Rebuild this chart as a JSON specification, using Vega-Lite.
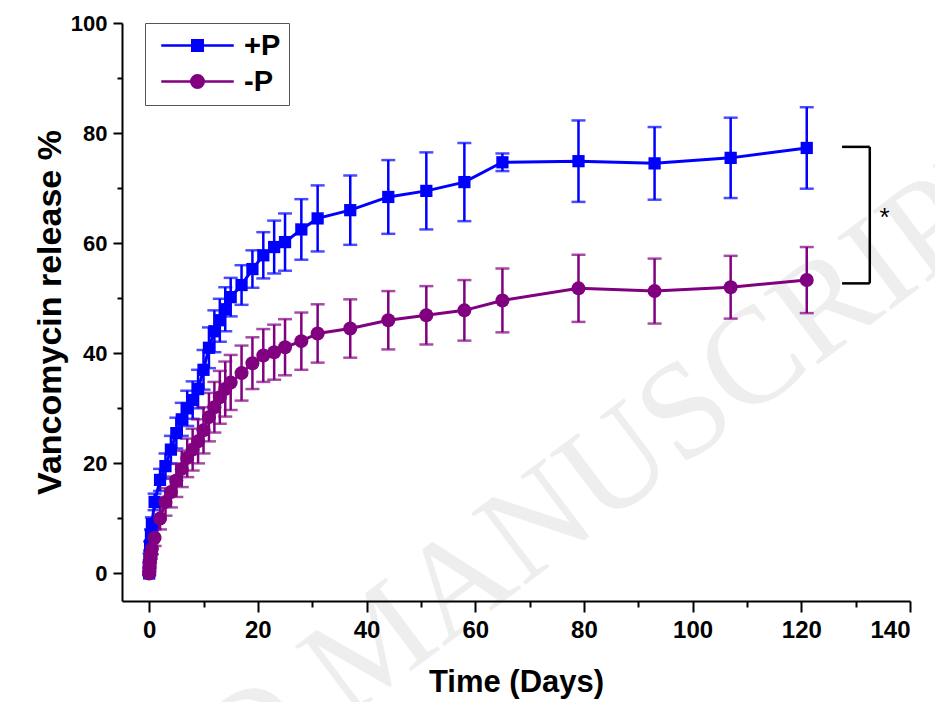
{
  "$schema": "https://vega.github.io/schema/vega-lite/v6.json",
  "width": 788,
  "height": 578,
  "autosize": {"type": "none"},
  "padding": {"left": 122, "top": 23, "right": 25, "bottom": 101},
  "background": "white",
  "config": {
    "view": {"stroke": null},
    "font": "Liberation Sans",
    "axis": {
      "domainColor": "black",
      "domainWidth": 2,
      "tickColor": "black",
      "tickWidth": 2,
      "grid": false,
      "labelFont": "Liberation Sans",
      "labelFontWeight": "bold",
      "labelColor": "black",
      "titleFont": "Liberation Sans",
      "titleFontWeight": "bold",
      "titleColor": "black"
    }
  },
  "datasets": {
    "d": [
      {"s": "+P", "t": 0, "m": 0, "e": 0.3},
      {"s": "+P", "t": 0.04, "m": 1.5, "e": 0.5},
      {"s": "+P", "t": 0.08, "m": 3, "e": 0.6},
      {"s": "+P", "t": 0.17, "m": 5, "e": 0.8},
      {"s": "+P", "t": 0.33, "m": 7, "e": 1},
      {"s": "+P", "t": 0.5, "m": 9, "e": 1.2},
      {"s": "+P", "t": 1, "m": 13, "e": 1.5},
      {"s": "+P", "t": 2, "m": 17, "e": 2},
      {"s": "+P", "t": 3, "m": 19.5, "e": 2.3},
      {"s": "+P", "t": 4, "m": 22.5, "e": 2.5},
      {"s": "+P", "t": 5, "m": 25.5, "e": 2.8},
      {"s": "+P", "t": 6, "m": 28, "e": 3},
      {"s": "+P", "t": 7, "m": 30, "e": 3.2},
      {"s": "+P", "t": 8, "m": 31.5, "e": 3.4},
      {"s": "+P", "t": 9, "m": 33.5, "e": 3.5},
      {"s": "+P", "t": 10, "m": 37, "e": 3.6},
      {"s": "+P", "t": 11, "m": 41, "e": 3.7},
      {"s": "+P", "t": 12, "m": 44, "e": 3.8},
      {"s": "+P", "t": 13, "m": 46, "e": 3.9},
      {"s": "+P", "t": 14, "m": 48, "e": 4},
      {"s": "+P", "t": 15, "m": 50.2, "e": 3.5},
      {"s": "+P", "t": 17, "m": 52.4, "e": 3.6},
      {"s": "+P", "t": 19, "m": 55.3, "e": 3.4},
      {"s": "+P", "t": 21, "m": 57.8, "e": 4.2},
      {"s": "+P", "t": 23, "m": 59.3, "e": 4.8},
      {"s": "+P", "t": 25, "m": 60.2, "e": 5.2},
      {"s": "+P", "t": 28, "m": 62.5, "e": 5.5},
      {"s": "+P", "t": 31, "m": 64.5, "e": 6},
      {"s": "+P", "t": 37, "m": 66, "e": 6.3},
      {"s": "+P", "t": 44, "m": 68.4, "e": 6.7},
      {"s": "+P", "t": 51, "m": 69.5, "e": 7},
      {"s": "+P", "t": 58, "m": 71.1, "e": 7.1},
      {"s": "+P", "t": 65, "m": 74.7, "e": 1.6},
      {"s": "+P", "t": 79, "m": 74.9, "e": 7.4},
      {"s": "+P", "t": 93, "m": 74.5, "e": 6.6},
      {"s": "+P", "t": 107, "m": 75.5, "e": 7.3},
      {"s": "+P", "t": 121, "m": 77.3, "e": 7.4},
      {"s": "-P", "t": 0, "m": 0, "e": 0.3},
      {"s": "-P", "t": 0.04, "m": 0.8, "e": 0.4},
      {"s": "-P", "t": 0.08, "m": 1.5, "e": 0.5},
      {"s": "-P", "t": 0.17, "m": 2.5, "e": 0.6},
      {"s": "-P", "t": 0.33, "m": 3.5, "e": 0.8},
      {"s": "-P", "t": 0.5, "m": 4.5, "e": 1},
      {"s": "-P", "t": 1, "m": 6.5, "e": 1.5},
      {"s": "-P", "t": 2, "m": 10, "e": 2},
      {"s": "-P", "t": 3, "m": 13, "e": 2.5},
      {"s": "-P", "t": 4, "m": 14.8, "e": 2.8},
      {"s": "-P", "t": 5, "m": 16.9, "e": 3},
      {"s": "-P", "t": 6, "m": 19, "e": 3.3},
      {"s": "-P", "t": 7, "m": 21, "e": 3.5},
      {"s": "-P", "t": 8, "m": 22.5, "e": 3.8},
      {"s": "-P", "t": 9, "m": 24, "e": 4},
      {"s": "-P", "t": 10, "m": 26, "e": 4.2},
      {"s": "-P", "t": 11, "m": 28.4, "e": 4.4},
      {"s": "-P", "t": 12, "m": 30.2, "e": 4.6},
      {"s": "-P", "t": 13, "m": 32, "e": 4.8},
      {"s": "-P", "t": 14, "m": 33.5, "e": 5},
      {"s": "-P", "t": 15, "m": 34.7, "e": 5},
      {"s": "-P", "t": 17, "m": 36.4, "e": 5},
      {"s": "-P", "t": 19, "m": 38.2, "e": 4.7},
      {"s": "-P", "t": 21, "m": 39.6, "e": 4.8},
      {"s": "-P", "t": 23, "m": 40.2, "e": 5},
      {"s": "-P", "t": 25, "m": 41.1, "e": 5.1},
      {"s": "-P", "t": 28, "m": 42.2, "e": 5.2},
      {"s": "-P", "t": 31, "m": 43.6, "e": 5.3},
      {"s": "-P", "t": 37, "m": 44.5, "e": 5.3},
      {"s": "-P", "t": 44, "m": 46, "e": 5.3},
      {"s": "-P", "t": 51, "m": 46.9, "e": 5.3},
      {"s": "-P", "t": 58, "m": 47.8, "e": 5.5},
      {"s": "-P", "t": 65, "m": 49.6, "e": 5.8},
      {"s": "-P", "t": 79, "m": 51.8, "e": 6.1},
      {"s": "-P", "t": 93, "m": 51.3, "e": 5.9},
      {"s": "-P", "t": 107, "m": 52, "e": 5.7},
      {"s": "-P", "t": 121, "m": 53.3, "e": 6}
    ],
    "bracket": [
      {"x": 127.5, "x2": 132.6, "y": 77.5, "y2": 77.5},
      {"x": 127.5, "x2": 132.6, "y": 52.7, "y2": 52.7},
      {"x": 132.6, "x2": 132.6, "y": 77.5, "y2": 52.7}
    ],
    "star": [{"x": 135.3, "y": 64.5, "label": "*"}],
    "wm": [{"x": 42, "y": -13, "label": "ACCEPTED MANUSCRIPT"}]
  },
  "encoding": {
    "x": {
      "field": "t", "type": "quantitative",
      "scale": {"domain": [-5, 140], "nice": false, "zero": false},
      "axis": {
        "zindex": 2,
        "title": "Time (Days)",
        "values": [0, 10, 20, 30, 40, 50, 60, 70, 80, 90, 100, 110, 120, 130, 140],
        "labelExpr": "datum.value % 20 === 0 ? datum.label : ''",
        "tickSize": {"condition": {"test": "datum.value % 20 === 0", "value": 11}, "value": 6},
        "labelFontSize": 24,
        "labelPadding": 6,
        "titleFontSize": 31,
        "titlePadding": 25
      }
    },
    "y": {
      "field": "m", "type": "quantitative",
      "scale": {"domain": [-5, 100], "nice": false, "zero": false},
      "axis": {
        "zindex": 2,
        "title": "Vancomycin release %",
        "values": [0, 10, 20, 30, 40, 50, 60, 70, 80, 90, 100],
        "labelExpr": "datum.value % 20 === 0 ? datum.label : ''",
        "tickSize": {"condition": {"test": "datum.value % 20 === 0", "value": 9}, "value": 5},
        "labelFontSize": 22,
        "labelPadding": 6,
        "titleFontSize": 34,
        "titlePadding": 3
      }
    }
  },
  "layer": [
    {
      "data": {"name": "wm"},
      "mark": {"type": "text", "fontSize": 137, "font": "Liberation Serif", "color": "#eeeeee", "angle": -37, "align": "center", "baseline": "middle"},
      "encoding": {
        "x": {"field": "x", "type": "quantitative"},
        "y": {"field": "y", "type": "quantitative"},
        "text": {"field": "label"}
      }
    },
    {
      "data": {"name": "d"},
      "transform": [{"filter": "datum.s === '+P'"}],
      "mark": {"type": "errorbar", "ticks": {"size": 14, "thickness": 2.5, "color": "#0000ff"}, "rule": {"strokeWidth": 2.5, "color": "#0000ff"}, "color": "#0000ff"},
      "encoding": {"yError": {"field": "e"}}
    },
    {
      "data": {"name": "d"},
      "transform": [{"filter": "datum.s === '-P'"}],
      "mark": {"type": "errorbar", "ticks": {"size": 14, "thickness": 2.5, "color": "#800080"}, "rule": {"strokeWidth": 2.5, "color": "#800080"}, "color": "#800080"},
      "encoding": {"yError": {"field": "e"}}
    },
    {
      "data": {"name": "d"},
      "transform": [{"filter": "datum.s === '+P'"}],
      "mark": {"type": "line", "color": "#0000ff", "strokeWidth": 3}
    },
    {
      "data": {"name": "d"},
      "transform": [{"filter": "datum.s === '-P'"}],
      "mark": {"type": "line", "color": "#800080", "strokeWidth": 3}
    },
    {
      "data": {"name": "d"},
      "transform": [{"filter": "datum.s === '+P'"}],
      "mark": {"type": "point", "shape": "square", "filled": true, "opacity": 1, "size": 150, "color": "#0000ff"}
    },
    {
      "data": {"name": "d"},
      "transform": [{"filter": "datum.s === '-P'"}],
      "mark": {"type": "point", "shape": "circle", "filled": true, "opacity": 1, "size": 196, "color": "#800080"}
    },
    {
      "data": {"name": "d"},
      "mark": {"type": "point", "filled": true, "opacity": 0, "strokeWidth": 2.5},
      "encoding": {
        "shape": {
          "field": "s", "type": "nominal",
          "scale": {
            "domain": ["+P", "-P"],
            "range": [
              "M-2.9,0H2.9M-0.42,-0.42H0.42V0.42H-0.42Z",
              "M-2.9,0H2.9M-0.5,0A0.5,0.5 0 1,1 0.5,0A0.5,0.5 0 1,1 -0.5,0Z"
            ]
          },
          "legend": {
            "title": null,
            "orient": "none",
            "legendX": 23,
            "legendY": 0,
            "padding": 8,
            "strokeColor": "#555555",
            "fillColor": "white",
            "symbolSize": 625,
            "symbolOffset": 30,
            "symbolStrokeWidth": 2.5,
            "symbolOpacity": 1,
            "labelOffset": 32,
            "labelFont": "Liberation Sans",
            "labelFontWeight": "bold",
            "labelFontSize": 29,
            "labelColor": "black",
            "rowPadding": 6
          }
        },
        "fill": {"field": "s", "type": "nominal", "scale": {"domain": ["+P", "-P"], "range": ["#0000ff", "#800080"]}},
        "stroke": {"field": "s", "type": "nominal", "scale": {"domain": ["+P", "-P"], "range": ["#0000ff", "#800080"]}}
      }
    },
    {
      "data": {"name": "bracket"},
      "mark": {"type": "rule", "color": "black", "strokeWidth": 2.5},
      "encoding": {
        "x": {"field": "x", "type": "quantitative"},
        "x2": {"field": "x2"},
        "y": {"field": "y", "type": "quantitative"},
        "y2": {"field": "y2"}
      }
    },
    {
      "data": {"name": "star"},
      "mark": {"type": "text", "fontSize": 26, "color": "black", "font": "Liberation Sans", "baseline": "middle"},
      "encoding": {
        "x": {"field": "x", "type": "quantitative"},
        "y": {"field": "y", "type": "quantitative"},
        "text": {"field": "label"}
      }
    }
  ]
}
